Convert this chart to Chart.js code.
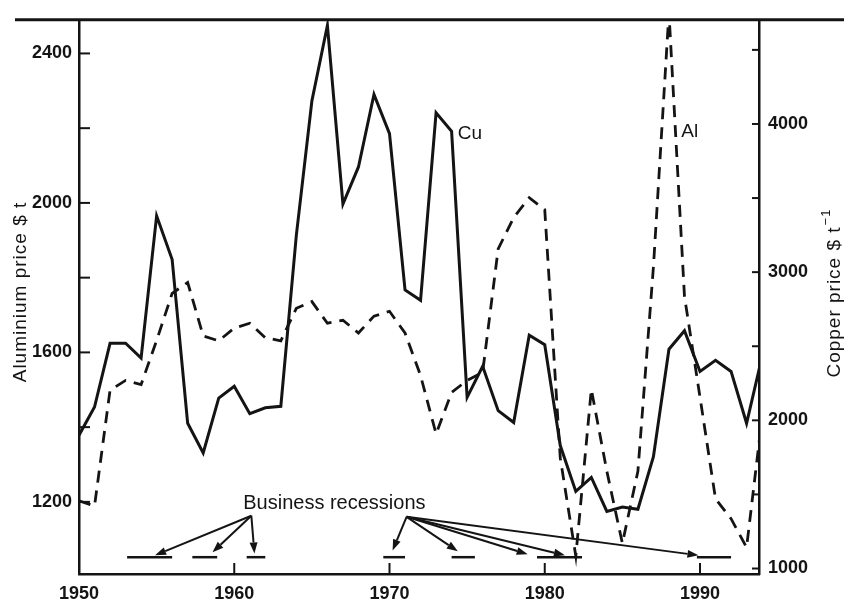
<!DOCTYPE html>
<html>
<head>
<meta charset="utf-8">
<script src="https://cdn.jsdelivr.net/npm/chart.js@4/dist/chart.umd.min.js"></script>
<style>
  html, body { margin: 0; padding: 0; background: #fff; }
</style>
</head>
<body>
<canvas id="myChart" width="844" height="601"></canvas>
<script>
// Annual prices
var years = [1950,1951,1952,1953,1954,1955,1956,1957,1958,1959,
             1960,1961,1962,1963,1964,1965,1966,1967,1968,1969,
             1970,1971,1972,1973,1974,1975,1976,1977,1978,1979,
             1980,1981,1982,1983,1984,1985,1986,1987,1988,1989,
             1990,1991,1992,1993,1994];
var copper = [1900,2090,2520,2520,2420,3380,3085,1980,1780,2150,
              2230,2045,2085,2095,3250,4155,4665,3460,3710,4200,
              3935,2880,2810,4075,3950,2155,2365,2065,1985,2575,
              2510,1830,1520,1615,1385,1415,1400,1755,2480,2605,
              2330,2405,2330,1980,2430];
var aluminium = [1203,1189,1499,1525,1514,1632,1758,1787,1644,1631,
                 1665,1678,1639,1631,1718,1736,1678,1686,1652,1697,
                 1710,1652,1538,1382,1493,1525,1547,1877,1961,2014,
                 1982,1317,1055,1501,1282,1089,1282,1829,2510,1750,
                 1480,1208,1155,1078,1427];

// Tick values and labels
var yearTicks = [1950,1960,1970,1980,1990];
var alTicks = [1200,1400,1600,1800,2000,2200,2400];
var alLabels = [1200,1600,2000,2400];
var cuTicks = [1000,1500,2000,2500,3000,3500,4000,4500];
var cuLabels = [1000,2000,3000,4000];

// Business recessions (years) and the arrows pointing at them
var recessionStart = [1953.1,1957.3,1960.8,1969.6,1974.0,1979.5,1989.8];
var recessionEnd   = [1956.0,1958.9,1962.0,1971.0,1975.5,1982.4,1992.0];
var recessionLevel = 1052;
var leftArrowTips  = [1954.9,1958.6,1961.3];
var leftTipLevels  = [1057,1065,1062];
var rightArrowTips = [1970.2,1974.4,1978.9,1981.3,1989.9];
var rightTipLevels = [1070,1068,1060,1057,1057];

var ink = '#141414';
var font = '"Liberation Sans", Arial, sans-serif';

function seg(ctx, x1, y1, x2, y2) {
  ctx.beginPath(); ctx.moveTo(x1, y1); ctx.lineTo(x2, y2); ctx.stroke();
}

function arrow(ctx, x1, y1, x2, y2) {
  var ang = Math.atan2(y2 - y1, x2 - x1), len = 11, hw = 4;
  var bx = x2 - len * Math.cos(ang), by = y2 - len * Math.sin(ang);
  seg(ctx, x1, y1, bx, by);
  ctx.beginPath();
  ctx.moveTo(x2, y2);
  ctx.lineTo(bx + hw * Math.sin(ang), by - hw * Math.cos(ang));
  ctx.lineTo(bx - hw * Math.sin(ang), by + hw * Math.cos(ang));
  ctx.closePath();
  ctx.fill();
}

var framePlugin = {
  id: 'frame',
  afterDraw: function(chart) {
    var ctx = chart.ctx, a = chart.chartArea;
    var x = chart.scales.x, yl = chart.scales.yAl, yr = chart.scales.yCu;
    ctx.save();
    ctx.strokeStyle = ink;
    ctx.fillStyle = ink;
    ctx.lineCap = 'butt';

    // heavy rule along the top
    ctx.lineWidth = 3;
    seg(ctx, 15, a.top, chart.width, a.top);

    // inward tick marks
    ctx.lineWidth = 2;
    alTicks.forEach(function(v) { var p = yl.getPixelForValue(v); seg(ctx, a.left, p, a.left + 11, p); });
    cuTicks.forEach(function(v) { var p = yr.getPixelForValue(v); seg(ctx, a.right - 7, p, a.right, p); });
    yearTicks.slice(1).forEach(function(v) { var p = x.getPixelForValue(v); seg(ctx, p, a.bottom - 11, p, a.bottom); });

    // axis titles, both reading upwards
    ctx.font = '19px ' + font;
    ctx.letterSpacing = '1px';
    ctx.textBaseline = 'middle';
    ctx.textAlign = 'center';
    ctx.save();
    ctx.translate(21, 292);
    ctx.rotate(-Math.PI / 2);
    ctx.fillText('Aluminium price $ t', 0, 0);
    ctx.restore();

    ctx.save();
    ctx.translate(835, 296);
    ctx.rotate(-Math.PI / 2);
    var main = 'Copper price $ t';
    var w = ctx.measureText(main).width;
    ctx.fillText(main, -6, 0);
    ctx.font = '13px ' + font;
    ctx.textAlign = 'left';
    ctx.fillText('\u22121', -6 + w / 2 + 1, -9);
    ctx.restore();
    ctx.letterSpacing = '0px';

    // series labels
    ctx.font = '19px ' + font;
    ctx.textAlign = 'left';
    ctx.fillText('Cu', x.getPixelForValue(1974.4), yr.getPixelForValue(3936));
    ctx.fillText('Al', x.getPixelForValue(1988.8), yl.getPixelForValue(2191));

    // business recessions
    ctx.font = '20px ' + font;
    ctx.textAlign = 'center';
    ctx.fillText('Business recessions', x.getPixelForValue(1966.45), yl.getPixelForValue(1195));

    ctx.lineWidth = 2.5;
    var ly = yl.getPixelForValue(recessionLevel);
    recessionStart.forEach(function(s, i) {
      seg(ctx, x.getPixelForValue(s), ly, x.getPixelForValue(recessionEnd[i]), ly);
    });

    ctx.lineWidth = 2;
    var lx0 = x.getPixelForValue(1961.1), ly0 = yl.getPixelForValue(1163);
    leftArrowTips.forEach(function(t, i) {
      arrow(ctx, lx0, ly0, x.getPixelForValue(t), yl.getPixelForValue(leftTipLevels[i]));
    });
    var rx0 = x.getPixelForValue(1971.1), ry0 = yl.getPixelForValue(1160);
    rightArrowTips.forEach(function(t, i) {
      arrow(ctx, rx0, ry0, x.getPixelForValue(t), yl.getPixelForValue(rightTipLevels[i]));
    });

    ctx.restore();
  }
};

var ctx = document.getElementById('myChart').getContext('2d');
var myChart = new Chart(ctx, {
  type: 'line',
  data: {
    datasets: [{
      label: 'Cu',
      data: years.map(function(y, i) { return { x: y, y: copper[i] }; }),
      yAxisID: 'yCu',
      borderColor: ink,
      borderWidth: 3,
      borderJoinStyle: 'miter',
      pointRadius: 0,
      tension: 0
    }, {
      label: 'Al',
      data: years.map(function(y, i) { return { x: y, y: aluminium[i] }; }),
      yAxisID: 'yAl',
      borderColor: ink,
      borderWidth: 2.8,
      borderDash: [12, 8],
      pointRadius: 0,
      tension: 0
    }]
  },
  options: {
    responsive: false,
    animation: false,
    layout: { padding: { top: 13, left: 0, right: 0, bottom: 0 } },
    plugins: { legend: { display: false }, tooltip: { enabled: false } },
    scales: {
      x: {
        type: 'linear',
        min: 1950,
        max: 1993.8,
        afterBuildTicks: function(s) { s.ticks = yearTicks.map(function(v) { return { value: v }; }); },
        afterFit: function(s) { s.height = 27; },
        grid: { display: false, drawTicks: false },
        border: { display: true, color: ink, width: 2.5 },
        ticks: { color: ink, padding: 9, maxRotation: 0, autoSkip: false,
                 font: { family: font, size: 18, weight: 'bold' },
                 callback: function(v) { return String(v); } }
      },
      yAl: {
        type: 'linear',
        position: 'left',
        min: 1007,
        max: 2490,
        afterBuildTicks: function(s) { s.ticks = alLabels.map(function(v) { return { value: v }; }); },
        afterFit: function(s) { s.width = 79; },
        grid: { display: false, drawTicks: false },
        border: { display: true, color: ink, width: 2.5 },
        ticks: { color: ink, padding: 7, autoSkip: false,
                 font: { family: font, size: 18, weight: 'bold' },
                 callback: function(v) { return String(v); } }
      },
      yCu: {
        type: 'linear',
        position: 'right',
        min: 963,
        max: 4703,
        afterBuildTicks: function(s) { s.ticks = cuLabels.map(function(v) { return { value: v }; }); },
        afterFit: function(s) { s.width = 85; },
        grid: { display: false, drawTicks: false },
        border: { display: true, color: ink, width: 2.5 },
        ticks: { color: ink, padding: 9, autoSkip: false,
                 font: { family: font, size: 18, weight: 'bold' },
                 callback: function(v) { return String(v); } }
      }
    }
  },
  plugins: [framePlugin]
});
</script>
</body>
</html>
